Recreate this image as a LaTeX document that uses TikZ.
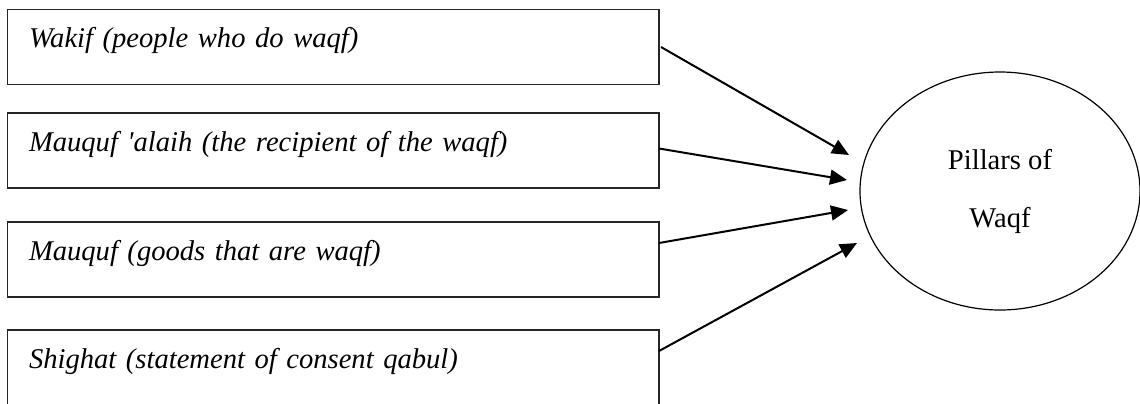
\documentclass[tikz,border=0pt]{standalone}
\usepackage{fontspec}
\setmainfont{Liberation Serif}
\usetikzlibrary{calc}
\usetikzlibrary{shapes.geometric}
\usetikzlibrary{arrows.meta,positioning}

\begin{document}
\begin{tikzpicture}[x=0.5pt,y=-0.5pt] % one unit is one pixel of the reference
		\newcommand{\boxWidth}{325.75pt}
		\newcommand{\boxPad}{10.75pt}
		
		\tikzset{
			pillarbox/.style={draw=black!85, line width=0.75pt, anchor=north west, outer sep=0pt,
				inner xsep=\boxPad, inner ysep=0pt, text width=\boxWidth-2*\boxPad, align=left,
				text height=19pt, text depth=18.5pt, font=\fontsize{14.3}{17}\selectfont\itshape},
			toPillar/.style={draw, line width=1pt, -{Triangle[length=8.5pt,width=7.5pt]}}
		}
		
		\useasboundingbox (0,0) rectangle (1140,403);	% page
		\clip (0,0) rectangle (1140,403);
		
		% the four elements
		\node[pillarbox] (wakif) at (7.5,9.5) {Wakif (people who do waqf)};
		\node[pillarbox] (alaih) at (7.5,113) {Mauquf \textquotesingle alaih (the recipient of the waqf)};
		\node[pillarbox] (mauquf) at (7.5,222) {Mauquf (goods that are waqf)};
		\node[pillarbox, text depth=40pt] (shighat) at (7.5,330) {Shighat (statement of consent qabul)};
		
		% the pillars
		\node[ellipse, draw, line width=0.6pt, minimum width=140pt, minimum height=119pt, inner sep=0pt,
			align=center, font=\fontsize{14.3}{29}\selectfont] (pillars) at (1000,191) {Pillars of\\Waqf};
		
		% arrow tips, short of the ellipse
		\coordinate (tipA) at (849,155);
		\coordinate (tipB) at (847,180);
		\coordinate (tipC) at (848,210);
		\coordinate (tipD) at (857,243);
		
		% arrows
		\draw[toPillar] ([xshift=1pt]wakif.east) -- (tipA);
		\draw[toPillar] ([yshift=1pt]alaih.east) -- (tipB);
		\draw[toPillar] ($(mauquf.north east)+(0,21)$) -- (tipC);
		\draw[toPillar] ($(shighat.north east)+(0,21)$) -- (tipD);
\end{tikzpicture}
\end{document}
